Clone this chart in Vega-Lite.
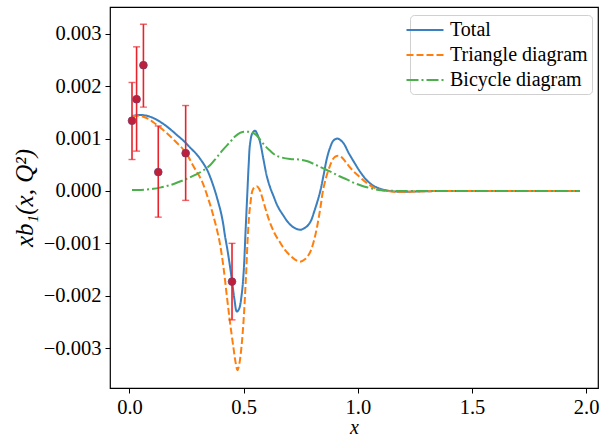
{
  "$schema": "https://vega.github.io/schema/vega-lite/v6.json",
  "autosize": "none",
  "width": 488,
  "height": 381,
  "padding": {"left": 110, "top": 7, "right": 2, "bottom": 49},
  "background": "white",
  "config": {
    "view": {"stroke": "#000", "strokeWidth": 1.2},
    "axis": {
      "grid": false,
      "domain": false,
      "tickColor": "#000",
      "tickSize": 5,
      "labelFont": "Liberation Serif",
      "labelFontSize": 20.5,
      "labelColor": "#000",
      "titleFont": "Liberation Serif",
      "titleFontStyle": "italic",
      "titleFontWeight": "normal",
      "titleColor": "#000"
    }
  },
  "datasets": {
    "curves": [
      {"x": 0.011, "y": 0.00143, "s": "Total"},
      {"x": 0.03, "y": 0.001445, "s": "Total"},
      {"x": 0.05, "y": 0.00145, "s": "Total"},
      {"x": 0.08, "y": 0.00143, "s": "Total"},
      {"x": 0.11, "y": 0.00138, "s": "Total"},
      {"x": 0.148, "y": 0.00128, "s": "Total"},
      {"x": 0.178, "y": 0.00118, "s": "Total"},
      {"x": 0.207, "y": 0.00107, "s": "Total"},
      {"x": 0.236, "y": 0.00096, "s": "Total"},
      {"x": 0.265, "y": 0.00083, "s": "Total"},
      {"x": 0.294, "y": 0.0007, "s": "Total"},
      {"x": 0.318, "y": 0.00056, "s": "Total"},
      {"x": 0.338, "y": 0.00042, "s": "Total"},
      {"x": 0.353, "y": 0.00027, "s": "Total"},
      {"x": 0.367, "y": 0.0001, "s": "Total"},
      {"x": 0.378, "y": -0.00005, "s": "Total"},
      {"x": 0.389, "y": -0.00022, "s": "Total"},
      {"x": 0.4, "y": -0.0004, "s": "Total"},
      {"x": 0.41, "y": -0.00062, "s": "Total"},
      {"x": 0.418, "y": -0.00085, "s": "Total"},
      {"x": 0.43, "y": -0.00115, "s": "Total"},
      {"x": 0.448, "y": -0.00168, "s": "Total"},
      {"x": 0.46, "y": -0.00208, "s": "Total"},
      {"x": 0.47, "y": -0.0023, "s": "Total"},
      {"x": 0.48, "y": -0.00225, "s": "Total"},
      {"x": 0.491, "y": -0.00199, "s": "Total"},
      {"x": 0.5, "y": -0.00155, "s": "Total"},
      {"x": 0.508, "y": -0.0008, "s": "Total"},
      {"x": 0.516, "y": -0.00005, "s": "Total"},
      {"x": 0.522, "y": 0.0005, "s": "Total"},
      {"x": 0.528, "y": 0.0009, "s": "Total"},
      {"x": 0.538, "y": 0.0011, "s": "Total"},
      {"x": 0.55, "y": 0.00115, "s": "Total"},
      {"x": 0.56, "y": 0.00108, "s": "Total"},
      {"x": 0.572, "y": 0.00093, "s": "Total"},
      {"x": 0.586, "y": 0.00062, "s": "Total"},
      {"x": 0.601, "y": 0.00029, "s": "Total"},
      {"x": 0.615, "y": 0.00008, "s": "Total"},
      {"x": 0.63, "y": -0.00009, "s": "Total"},
      {"x": 0.65, "y": -0.0003, "s": "Total"},
      {"x": 0.674, "y": -0.00047, "s": "Total"},
      {"x": 0.695, "y": -0.0006, "s": "Total"},
      {"x": 0.717, "y": -0.00069, "s": "Total"},
      {"x": 0.747, "y": -0.00074, "s": "Total"},
      {"x": 0.77, "y": -0.0007, "s": "Total"},
      {"x": 0.791, "y": -0.0006, "s": "Total"},
      {"x": 0.81, "y": -0.00038, "s": "Total"},
      {"x": 0.834, "y": -0.00003, "s": "Total"},
      {"x": 0.85, "y": 0.0003, "s": "Total"},
      {"x": 0.864, "y": 0.00061, "s": "Total"},
      {"x": 0.878, "y": 0.00082, "s": "Total"},
      {"x": 0.893, "y": 0.00096, "s": "Total"},
      {"x": 0.91, "y": 0.001, "s": "Total"},
      {"x": 0.927, "y": 0.00096, "s": "Total"},
      {"x": 0.942, "y": 0.00088, "s": "Total"},
      {"x": 0.958, "y": 0.00074, "s": "Total"},
      {"x": 0.985, "y": 0.00054, "s": "Total"},
      {"x": 1.011, "y": 0.00036, "s": "Total"},
      {"x": 1.04, "y": 0.0002, "s": "Total"},
      {"x": 1.068, "y": 0.0001, "s": "Total"},
      {"x": 1.1, "y": 0.00004, "s": "Total"},
      {"x": 1.127, "y": 0.00001, "s": "Total"},
      {"x": 1.16, "y": -0.00001, "s": "Total"},
      {"x": 1.2, "y": -0.000015, "s": "Total"},
      {"x": 1.3, "y": -0.000005, "s": "Total"},
      {"x": 1.4, "y": 0.0, "s": "Total"},
      {"x": 1.6, "y": 0.0, "s": "Total"},
      {"x": 1.8, "y": 0.0, "s": "Total"},
      {"x": 1.973, "y": 0.0, "s": "Total"},

      {"x": 0.011, "y": 0.00142, "s": "Triangle diagram"},
      {"x": 0.03, "y": 0.001435, "s": "Triangle diagram"},
      {"x": 0.05, "y": 0.00143, "s": "Triangle diagram"},
      {"x": 0.08, "y": 0.00138, "s": "Triangle diagram"},
      {"x": 0.104, "y": 0.00131, "s": "Triangle diagram"},
      {"x": 0.14, "y": 0.00119, "s": "Triangle diagram"},
      {"x": 0.177, "y": 0.00105, "s": "Triangle diagram"},
      {"x": 0.207, "y": 0.00092, "s": "Triangle diagram"},
      {"x": 0.236, "y": 0.00079, "s": "Triangle diagram"},
      {"x": 0.258, "y": 0.00065, "s": "Triangle diagram"},
      {"x": 0.279, "y": 0.00048, "s": "Triangle diagram"},
      {"x": 0.298, "y": 0.00034, "s": "Triangle diagram"},
      {"x": 0.316, "y": 0.0002, "s": "Triangle diagram"},
      {"x": 0.332, "y": 0.00002, "s": "Triangle diagram"},
      {"x": 0.345, "y": -0.00015, "s": "Triangle diagram"},
      {"x": 0.356, "y": -0.0003, "s": "Triangle diagram"},
      {"x": 0.367, "y": -0.00047, "s": "Triangle diagram"},
      {"x": 0.382, "y": -0.00072, "s": "Triangle diagram"},
      {"x": 0.395, "y": -0.00098, "s": "Triangle diagram"},
      {"x": 0.41, "y": -0.0014, "s": "Triangle diagram"},
      {"x": 0.426, "y": -0.00199, "s": "Triangle diagram"},
      {"x": 0.44, "y": -0.0025, "s": "Triangle diagram"},
      {"x": 0.455, "y": -0.00298, "s": "Triangle diagram"},
      {"x": 0.465, "y": -0.00328, "s": "Triangle diagram"},
      {"x": 0.473, "y": -0.00342, "s": "Triangle diagram"},
      {"x": 0.481, "y": -0.0033, "s": "Triangle diagram"},
      {"x": 0.491, "y": -0.00295, "s": "Triangle diagram"},
      {"x": 0.5, "y": -0.00245, "s": "Triangle diagram"},
      {"x": 0.51, "y": -0.00165, "s": "Triangle diagram"},
      {"x": 0.519, "y": -0.0008, "s": "Triangle diagram"},
      {"x": 0.528, "y": -0.0003, "s": "Triangle diagram"},
      {"x": 0.542, "y": 0.00004, "s": "Triangle diagram"},
      {"x": 0.557, "y": 0.00009, "s": "Triangle diagram"},
      {"x": 0.568, "y": 0.00004, "s": "Triangle diagram"},
      {"x": 0.579, "y": -0.00009, "s": "Triangle diagram"},
      {"x": 0.597, "y": -0.00036, "s": "Triangle diagram"},
      {"x": 0.615, "y": -0.0006, "s": "Triangle diagram"},
      {"x": 0.637, "y": -0.00082, "s": "Triangle diagram"},
      {"x": 0.659, "y": -0.00098, "s": "Triangle diagram"},
      {"x": 0.68, "y": -0.00112, "s": "Triangle diagram"},
      {"x": 0.703, "y": -0.00123, "s": "Triangle diagram"},
      {"x": 0.725, "y": -0.00131, "s": "Triangle diagram"},
      {"x": 0.747, "y": -0.00135, "s": "Triangle diagram"},
      {"x": 0.77, "y": -0.0013, "s": "Triangle diagram"},
      {"x": 0.791, "y": -0.00117, "s": "Triangle diagram"},
      {"x": 0.806, "y": -0.00098, "s": "Triangle diagram"},
      {"x": 0.82, "y": -0.00072, "s": "Triangle diagram"},
      {"x": 0.835, "y": -0.00035, "s": "Triangle diagram"},
      {"x": 0.849, "y": 0.00004, "s": "Triangle diagram"},
      {"x": 0.864, "y": 0.0003, "s": "Triangle diagram"},
      {"x": 0.878, "y": 0.00048, "s": "Triangle diagram"},
      {"x": 0.89, "y": 0.0006, "s": "Triangle diagram"},
      {"x": 0.9, "y": 0.00065, "s": "Triangle diagram"},
      {"x": 0.915, "y": 0.00067, "s": "Triangle diagram"},
      {"x": 0.93, "y": 0.00064, "s": "Triangle diagram"},
      {"x": 0.951, "y": 0.00053, "s": "Triangle diagram"},
      {"x": 0.98, "y": 0.00038, "s": "Triangle diagram"},
      {"x": 1.01, "y": 0.00026, "s": "Triangle diagram"},
      {"x": 1.04, "y": 0.00015, "s": "Triangle diagram"},
      {"x": 1.068, "y": 0.00007, "s": "Triangle diagram"},
      {"x": 1.1, "y": 0.00002, "s": "Triangle diagram"},
      {"x": 1.127, "y": 0.0, "s": "Triangle diagram"},
      {"x": 1.16, "y": -0.000015, "s": "Triangle diagram"},
      {"x": 1.2, "y": -0.000015, "s": "Triangle diagram"},
      {"x": 1.3, "y": -0.000005, "s": "Triangle diagram"},
      {"x": 1.4, "y": 0.0, "s": "Triangle diagram"},
      {"x": 1.6, "y": 0.0, "s": "Triangle diagram"},
      {"x": 1.8, "y": 0.0, "s": "Triangle diagram"},
      {"x": 1.973, "y": 0.0, "s": "Triangle diagram"},

      {"x": 0.011, "y": 0.00002, "s": "Bicycle diagram"},
      {"x": 0.05, "y": 0.00002, "s": "Bicycle diagram"},
      {"x": 0.104, "y": 0.00004, "s": "Bicycle diagram"},
      {"x": 0.14, "y": 0.00007, "s": "Bicycle diagram"},
      {"x": 0.177, "y": 0.00011, "s": "Bicycle diagram"},
      {"x": 0.215, "y": 0.00017, "s": "Bicycle diagram"},
      {"x": 0.25, "y": 0.00023, "s": "Bicycle diagram"},
      {"x": 0.29, "y": 0.00031, "s": "Bicycle diagram"},
      {"x": 0.323, "y": 0.00039, "s": "Bicycle diagram"},
      {"x": 0.355, "y": 0.0005, "s": "Bicycle diagram"},
      {"x": 0.382, "y": 0.00064, "s": "Bicycle diagram"},
      {"x": 0.41, "y": 0.00079, "s": "Bicycle diagram"},
      {"x": 0.44, "y": 0.00093, "s": "Bicycle diagram"},
      {"x": 0.462, "y": 0.00104, "s": "Bicycle diagram"},
      {"x": 0.484, "y": 0.00111, "s": "Bicycle diagram"},
      {"x": 0.5, "y": 0.00113, "s": "Bicycle diagram"},
      {"x": 0.52, "y": 0.00113, "s": "Bicycle diagram"},
      {"x": 0.54, "y": 0.00111, "s": "Bicycle diagram"},
      {"x": 0.557, "y": 0.00106, "s": "Bicycle diagram"},
      {"x": 0.572, "y": 0.00098, "s": "Bicycle diagram"},
      {"x": 0.59, "y": 0.00088, "s": "Bicycle diagram"},
      {"x": 0.615, "y": 0.00077, "s": "Bicycle diagram"},
      {"x": 0.64, "y": 0.00068, "s": "Bicycle diagram"},
      {"x": 0.665, "y": 0.00064, "s": "Bicycle diagram"},
      {"x": 0.703, "y": 0.00061, "s": "Bicycle diagram"},
      {"x": 0.74, "y": 0.0006, "s": "Bicycle diagram"},
      {"x": 0.776, "y": 0.00057, "s": "Bicycle diagram"},
      {"x": 0.805, "y": 0.00052, "s": "Bicycle diagram"},
      {"x": 0.834, "y": 0.00046, "s": "Bicycle diagram"},
      {"x": 0.864, "y": 0.0004, "s": "Bicycle diagram"},
      {"x": 0.893, "y": 0.00034, "s": "Bicycle diagram"},
      {"x": 0.92, "y": 0.00028, "s": "Bicycle diagram"},
      {"x": 0.951, "y": 0.00022, "s": "Bicycle diagram"},
      {"x": 0.98, "y": 0.00016, "s": "Bicycle diagram"},
      {"x": 1.011, "y": 0.00011, "s": "Bicycle diagram"},
      {"x": 1.04, "y": 0.00007, "s": "Bicycle diagram"},
      {"x": 1.068, "y": 0.00004, "s": "Bicycle diagram"},
      {"x": 1.1, "y": 0.000015, "s": "Bicycle diagram"},
      {"x": 1.127, "y": 0.000005, "s": "Bicycle diagram"},
      {"x": 1.2, "y": 0.0, "s": "Bicycle diagram"},
      {"x": 1.4, "y": 0.0, "s": "Bicycle diagram"},
      {"x": 1.6, "y": 0.0, "s": "Bicycle diagram"},
      {"x": 1.8, "y": 0.0, "s": "Bicycle diagram"},
      {"x": 1.973, "y": 0.0, "s": "Bicycle diagram"}
    ],
    "points": [
      {"x": 0.011, "y": 0.00134, "lo": 0.0006, "hi": 0.00207},
      {"x": 0.031, "y": 0.00175, "lo": 0.00076, "hi": 0.00275},
      {"x": 0.061, "y": 0.0024, "lo": 0.0016, "hi": 0.00318},
      {"x": 0.126, "y": 0.00036, "lo": -0.0005, "hi": 0.00124},
      {"x": 0.246, "y": 0.00072, "lo": -0.00018, "hi": 0.00163},
      {"x": 0.449, "y": -0.00173, "lo": -0.00246, "hi": -0.001}
    ]
  },
  "layer": [
    {
      "data": {"name": "curves"},
      "mark": {"type": "line", "strokeWidth": 2, "interpolate": "catmull-rom", "clip": true},
      "encoding": {
        "x": {"field": "x", "type": "quantitative",
              "scale": {"domain": [-0.0854, 2.052], "nice": false, "zero": false},
              "axis": {"values": [0, 0.5, 1, 1.5, 2], "format": ".1f", "title": "x", "labelPadding": 4, "titleFontSize": 20, "titleBaseline": "bottom", "titleY": 49}},
        "y": {"field": "y", "type": "quantitative",
              "scale": {"domain": [-0.00376, 0.00351], "nice": false, "zero": false},
              "axis": {"values": [-0.003, -0.002, -0.001, 0, 0.001, 0.002, 0.003], "format": ".3f", "title": "xb₁(x, Q²)", "titleFontSize": 25, "labelPadding": 4, "titlePadding": 6}},
        "color": {"field": "s", "type": "nominal",
                  "scale": {"domain": ["Total", "Triangle diagram", "Bicycle diagram"], "range": ["#3a7fbf", "#ff7f0e", "#4caf4c"]},
                  "legend": {"title": null, "orient": "none", "legendX": 300, "legendY": 8, "symbolType": "M-1.85,0H1.85", "symbolStrokeWidth": 2, "symbolSize": 400, "symbolFillColor": "transparent",
                             "labelFont": "Liberation Serif", "labelFontSize": 20, "labelColor": "#000", "rowPadding": 4,
                             "strokeColor": "#d0d0d0", "fillColor": "white", "padding": 4, "cornerRadius": 4, "labelOffset": 14}},
        "strokeDash": {"field": "s", "type": "nominal",
                       "scale": {"domain": ["Total", "Triangle diagram", "Bicycle diagram"], "range": [[1, 0], [7, 3], [12, 3, 2, 3]]},
                       "legend": null},
        "order": {"field": "x", "type": "quantitative"}
      }
    },
    {
      "data": {"name": "points"},
      "mark": {"type": "rule", "color": "#e8232b", "strokeWidth": 1.6},
      "encoding": {
        "x": {"field": "x", "type": "quantitative"},
        "y": {"field": "lo", "type": "quantitative"},
        "y2": {"field": "hi"}
      }
    },
    {
      "data": {"name": "points"},
      "mark": {"type": "tick", "orient": "horizontal", "color": "#e8232b", "size": 7, "thickness": 1.4},
      "encoding": {
        "x": {"field": "x", "type": "quantitative"},
        "y": {"field": "lo", "type": "quantitative"}
      }
    },
    {
      "data": {"name": "points"},
      "mark": {"type": "tick", "orient": "horizontal", "color": "#e8232b", "size": 7, "thickness": 1.4},
      "encoding": {
        "x": {"field": "x", "type": "quantitative"},
        "y": {"field": "hi", "type": "quantitative"}
      }
    },
    {
      "data": {"name": "points"},
      "mark": {"type": "point", "filled": true, "shape": "circle", "size": 60, "color": "#c01f3a", "stroke": "#7a3a6a", "strokeWidth": 0.8, "opacity": 1},
      "encoding": {
        "x": {"field": "x", "type": "quantitative"},
        "y": {"field": "y", "type": "quantitative"}
      }
    }
  ]
}
